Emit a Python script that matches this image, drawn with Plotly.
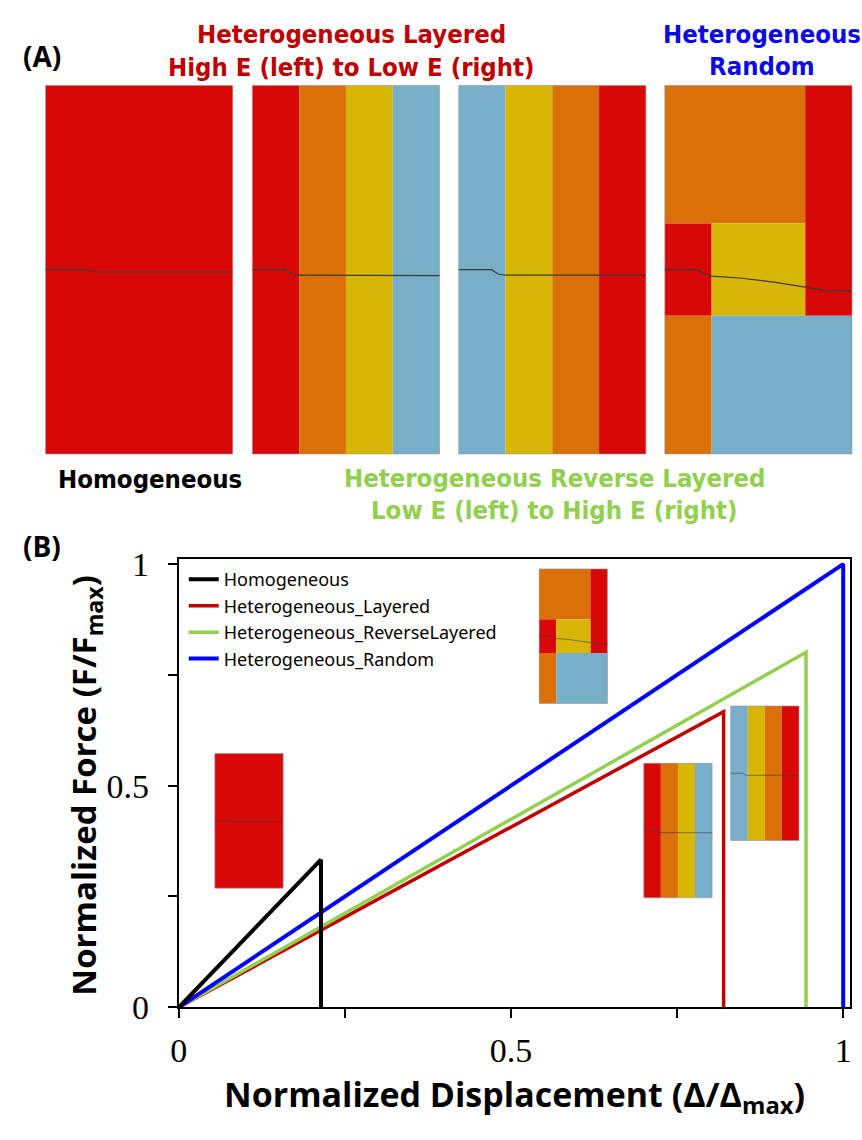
import plotly.graph_objects as go

W, H = 862, 1140

# ---------------- Panel B data ----------------
series_names = ["Homogeneous", "Heterogeneous_Layered",
                "Heterogeneous_ReverseLayered", "Heterogeneous_Random"]
series_colors = ["#000000", "#C00000", "#92D050", "#0000FF"]
peak_disp = [0.214, 0.820, 0.944, 1.0]     # normalized displacement at failure
peak_force = [0.333, 0.667, 0.801, 1.0]    # normalized peak force
tick_vals = [0, 0.5, 1]
tick_text = ["0", "0.5", "1"]
minor_tick_vals = [0.25, 0.75]

# ---------------- Panel A data (unit cells: 4 wide x 8 tall) ----------------
material_colors = {"E1": "#D90808", "E2": "#D97008", "E3": "#D8B608", "E4": "#77AFC8"}
homogeneous_cells = [(0, 4, 0, 8, "E1")]
layered_cells = [(0, 1, 0, 8, "E1"), (1, 2, 0, 8, "E2"), (2, 3, 0, 8, "E3"), (3, 4, 0, 8, "E4")]
reverse_cells = [(0, 1, 0, 8, "E4"), (1, 2, 0, 8, "E3"), (2, 3, 0, 8, "E2"), (3, 4, 0, 8, "E1")]
random_cells = [(0, 3, 5, 8, "E2"), (3, 4, 3, 8, "E1"), (0, 1, 3, 5, "E1"),
                (1, 3, 3, 5, "E3"), (0, 1, 0, 3, "E2"), (1, 4, 0, 3, "E4")]

homogeneous_crack_x = [0, 0.8, 1.1, 4]
homogeneous_crack_y = [4.0, 4.0, 3.95, 3.95]
layered_crack_x = [0, 0.7, 0.85, 1.0, 4]
layered_crack_y = [4.0, 4.0, 3.9, 3.88, 3.87]
reverse_crack_x = [0, 0.7, 0.85, 1.0, 4]
reverse_crack_y = [4.0, 4.0, 3.9, 3.88, 3.88]
random_crack_x = [0, 0.7, 0.85, 1.0, 1.6, 2.4, 3.0, 3.4, 4.0]
random_crack_y = [4.0, 4.0, 3.9, 3.86, 3.82, 3.72, 3.62, 3.55, 3.54]

specimens = {
    "hom": (homogeneous_cells, homogeneous_crack_x, homogeneous_crack_y),
    "lay": (layered_cells, layered_crack_x, layered_crack_y),
    "rev": (reverse_cells, reverse_crack_x, reverse_crack_y),
    "ran": (random_cells, random_crack_x, random_crack_y),
}

# placements (left px, top px, px per unit, crack width)
placements = [
    ("hom", 37, 74.5, 47.4, 1.2), ("lay", 246.5, 74.5, 47.4, 1.2),
    ("rev", 455.5, 74.5, 47.4, 1.2), ("ran", 664.3, 74.5, 47.4, 1.2),
    ("hom", 208.5, 762, 17.3, 0.6), ("lay", 643, 772, 17.3, 0.6),
    ("rev", 731, 713, 17.3, 0.6), ("ran", 537, 572, 17.3, 0.6),
]

fig = go.Figure()

# ---- curves (draw order: red, green, blue, black on top) ----
draw_order = [1, 2, 3, 0]
widths = [4, 3.5, 3.5, 4]
for i in draw_order:
    fig.add_trace(go.Scatter(
        x=[0, peak_disp[i], peak_disp[i]], y=[0, peak_force[i], 0],
        mode="lines", name=series_names[i], legendrank=i + 1,
        line=dict(color=series_colors[i], width=widths[i]),
        xaxis="x", yaxis="y", hoverinfo="skip"))

# ---- specimens ----
for key, left, top, s, cw in placements:
    cells, cx, cy = specimens[key]
    for (u0, u1, v0, v1, m) in cells:
        xs = [left + u * s for u in (u0, u1, u1, u0, u0)]
        ys = [top + (8 - v) * s for v in (v0, v0, v1, v1, v0)]
        fig.add_trace(go.Scatter(
            x=xs, y=ys, mode="lines", fill="toself",
            fillcolor=material_colors[m], line=dict(width=0, color=material_colors[m]),
            showlegend=False, hoverinfo="skip", xaxis="x2", yaxis="y2"))
    fig.add_trace(go.Scatter(
        x=[left, left + 4 * s, left + 4 * s, left, left],
        y=[top, top, top + 8 * s, top + 8 * s, top],
        mode="lines", line=dict(width=1, color="rgba(150,150,150,0.6)"),
        showlegend=False, hoverinfo="skip", xaxis="x2", yaxis="y2"))
    fig.add_trace(go.Scatter(
        x=[left + u * s for u in cx], y=[top + (8 - v) * s for v in cy],
        mode="lines", line=dict(width=cw, color="#3a3a3a"),
        showlegend=False, hoverinfo="skip", xaxis="x2", yaxis="y2"))

def px(x):
    return x / W

def py(y):
    return 1 - y / H

x0_px, x1_px = 172, 845
y0_px, y1_px = 1023, 567
frame_right, frame_top = 852, 562
xr_max = 1 + (frame_right - x1_px) / (x1_px - x0_px)
yr_max = 1 + (y1_px - frame_top) / (y0_px - y1_px)

tickfont = dict(family="Liberation Serif, Times New Roman, serif", size=34, color="black")
axis_common = dict(tickmode="array", tickvals=tick_vals, ticktext=tick_text,
                   ticks="outside", ticklen=9, tickwidth=2, tickcolor="black",
                   minor=dict(tickmode="array", tickvals=minor_tick_vals, ticks="outside",
                              ticklen=9, tickwidth=2, tickcolor="black", showgrid=False),
                   showline=True, linewidth=2, linecolor="black", mirror=True,
                   showgrid=False, zeroline=False, tickfont=tickfont)
fig.update_layout(
    width=W, height=H, autosize=False,
    margin=dict(l=0, r=0, t=0, b=0),
    paper_bgcolor="white", plot_bgcolor="rgba(0,0,0,0)",
    xaxis=dict(domain=[px(x0_px), px(frame_right)], range=[0, xr_max], anchor="y",
               ticklabelstandoff=3, **axis_common),
    yaxis=dict(domain=[py(y0_px), py(frame_top)], range=[0, yr_max], anchor="x",
               ticklabelstandoff=12, **axis_common),
    xaxis2=dict(domain=[0, 1], range=[0, W], visible=False, anchor="y2"),
    yaxis2=dict(domain=[0, 1], range=[H, 0], visible=False, anchor="x2"),
    showlegend=True,
    legend=dict(x=px(177), y=py(564), xanchor="left", yanchor="top",
                bgcolor="rgba(0,0,0,0)", borderwidth=0, itemwidth=30,
                font=dict(family="Noto Sans, sans-serif", size=18, color="black"),
                tracegroupgap=0),
)

bold_sans = "Open Sans, sans-serif"
narrow = "Liberation Sans Narrow, Arial Narrow, DejaVu Sans Condensed, sans-serif"
texts = [
    ("<b>(A)</b>", 33, 44, "black", bold_sans, 28),
    ("<b>(B)</b>", 33, 548, "black", bold_sans, 28),
    ("<b>Heterogeneous Layered</b>", 347, 22, "#C00000", narrow, 25.5),
    ("<b>High E (left) to Low E (right)</b>", 347, 56, "#C00000", narrow, 25.5),
    ("<b>Heterogeneous</b>", 763, 22, "#0A0AE6", narrow, 25.5),
    ("<b>Random</b>", 763, 55, "#0A0AE6", narrow, 25.5),
    ("<b>Homogeneous</b>", 143, 479, "black", narrow, 25.5),
    ("<b>Heterogeneous Reverse Layered</b>", 553, 478, "#92D050", narrow, 25.5),
    ("<b>Low E (left) to High E (right)</b>", 553, 511, "#92D050", narrow, 25.5),
]
for t, x, y, c, f, s in texts:
    fig.add_annotation(text=t, x=px(x), y=py(y), xref="paper", yref="paper",
                       showarrow=False, xanchor="center", yanchor="middle",
                       font=dict(family=f, size=s, color=c))

fig.add_annotation(text="<b>Normalized Displacement (Δ/Δ<sub>max</sub>)</b>",
                   x=px(512), y=py(1114), xref="paper", yref="paper", showarrow=False,
                   xanchor="center", yanchor="middle",
                   font=dict(family=bold_sans, size=34, color="black"))
fig.add_annotation(text="<b>Normalized Force (F/F<sub>max</sub>)</b>",
                   x=px(78), y=py(795), xref="paper", yref="paper", showarrow=False,
                   xanchor="center", yanchor="middle", textangle=-90,
                   font=dict(family=bold_sans, size=33, color="black"))

fig.write_html("out.html")
